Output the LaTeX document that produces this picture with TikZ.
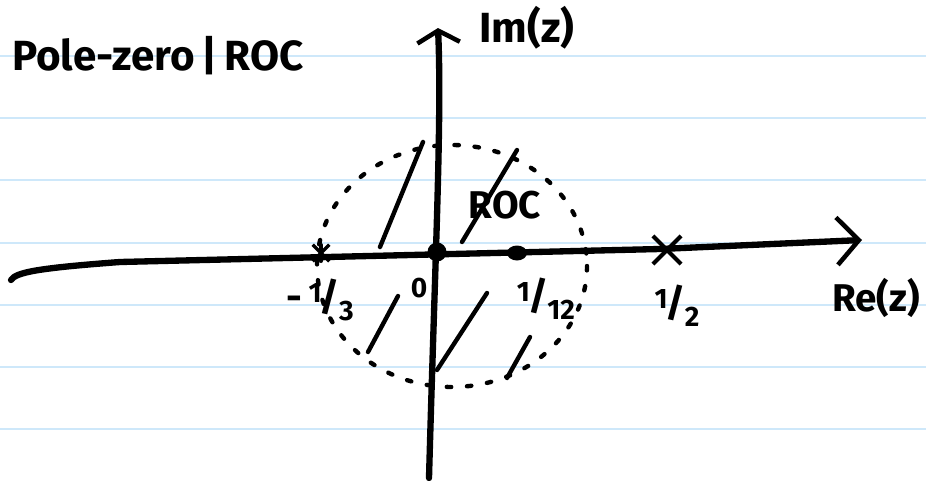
\documentclass[tikz,border=0pt]{standalone}
\usepackage{fontspec}
\setsansfont{Fira Sans}
\usetikzlibrary{arrows.meta,shapes.misc,shapes.geometric}
\definecolor{ruleblue}{RGB}{206,232,250}
\newcommand{\slfrac}[2]{\raisebox{0.4ex}{\fontsize{16}{17}\selectfont #1}\kern-0.05em/\kern-0.02em\raisebox{-0.5ex}{\fontsize{16}{17}\selectfont #2}}
\tikzset{lbl/.style={draw=none, fill=none, inner sep=0pt,
  font=\sffamily\bfseries\fontsize{22}{24}\selectfont},
  axis/.style={line width=3.6pt, line cap=round},
  hatch/.style={line width=2.5pt, line cap=round}}

\begin{document}
\begin{tikzpicture}[x=0.02cm, y=-0.02cm,
  dotnode/.style={circle, fill=black, draw=none, inner sep=0pt},
  xnode/.style={cross out, draw, line width=2.4pt, inner sep=0pt}]
  \useasboundingbox (0,0) rectangle (926,480);
  % notebook lines
  \foreach \y in {56,118,180,243,305,367,429}
    \draw[ruleblue, line width=0.9pt] (0,\y) -- (926,\y);
  % ROC boundary
  \draw[line width=2.5pt, line cap=round, dash pattern=on 2.5pt off 9pt]
    (452,266) ellipse [x radius=135, y radius=121];
  % axes
  \coordinate (reL) at (11,280);
  \coordinate (reR) at (862,240);
  \coordinate (imB) at (429,478);
  \coordinate (imT) at (438,28);
  \draw[axis, -{Straight Barb[length=4.4mm, width=9.5mm, line width=2.6pt]}]
    (reL) .. controls (16,272) and (40,268) .. (120,262) -- (660,249) -- (reR);
  \draw[axis, -{Straight Barb[length=2.4mm, width=8.5mm, line width=2.6pt]}]
    (imB) .. controls (435,260) and (442,120) .. (imT);
  % hatching
  \draw[hatch] (380,247) -- (423,142);
  \draw[hatch] (462,242) -- (517,150);
  \draw[hatch] (368,352) -- (398,296);
  \draw[hatch] (437,370) -- (487,293);
  \draw[hatch] (507,378) -- (530,337);
  % poles and zeros
  \node[dotnode, minimum size=0.38cm] (o) at (437,252) {};
  \node[dotnode, ellipse, minimum width=0.4cm, minimum height=0.3cm] (p) at (517,253) {};
  \node[xnode, minimum size=0.48cm] (x) at (667,250) {};
  \node[xnode, minimum size=0.26cm, line width=2pt] (z) at (321,253) {};
  \draw[line width=2pt, line cap=round] (z.north) -- (z.south);
  % labels
  \node[lbl, font=\sffamily\bfseries\fontsize{24}{26}\selectfont] (ttl) at (158,56) {Pole-zero\,|\,ROC};
  \node[lbl, font=\sffamily\bfseries\fontsize{24}{26}\selectfont] (im) at (527,28) {Im(z)};
  \node[lbl] (roc) at (505,205) {ROC};
  \node[lbl] (re) at (876,298) {Re(z)};
  \node[lbl] (lz) at (320,300) {-\,\slfrac{1}{3}};
  \node[lbl, font=\sffamily\bfseries\fontsize{16}{17}\selectfont] (lo) at (419,288) {0};
  \node[lbl] (lp) at (546,299) {\slfrac{1}{12}};
  \node[lbl] (lx) at (677,306) {\slfrac{1}{2}};
\end{tikzpicture}
\end{document}
